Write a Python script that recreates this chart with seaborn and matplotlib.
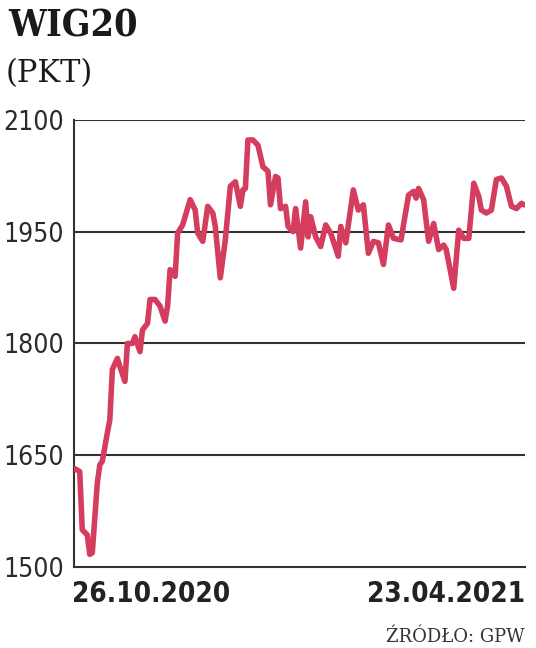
import pandas as pd
import matplotlib.pyplot as plt
import seaborn as sns

# dni od 26.10.2020 i wartości WIG20
days = [0, 2, 3, 5, 6, 7, 9, 10, 11, 13, 14, 15, 17, 18, 20, 21, 23, 24, 26, 27,
        29, 30, 32, 34, 36, 37, 38, 40, 41, 43, 46, 48, 49, 51, 53, 55, 56, 58, 60, 62,
        64, 66, 67, 68, 69, 71, 73, 75, 77, 78, 80, 81, 82, 84, 85, 87, 88, 90, 92, 93,
        94, 96, 98, 100, 102, 105, 106, 108, 111, 113, 115, 117, 119, 121, 123, 125, 127, 130, 133, 135,
        136, 137, 139, 141, 143, 145, 147, 148, 151, 153, 155, 157, 159, 161, 162, 164, 166, 168, 170, 172,
        174, 176, 178, 179]
wig20 = [1632, 1628, 1550, 1543, 1517, 1519, 1613, 1637, 1642, 1680, 1698, 1765, 1780, 1769, 1749, 1800, 1800, 1809, 1789, 1818,
         1827, 1859, 1859, 1850, 1830, 1850, 1899, 1890, 1948, 1959, 1993, 1979, 1948, 1937, 1984, 1975, 1957, 1888, 1939, 2011,
         2017, 1984, 2006, 2008, 2073, 2073, 2066, 2037, 2031, 1986, 2024, 2022, 1981, 1984, 1957, 1950, 1981, 1928, 1990, 1943,
         1970, 1943, 1930, 1959, 1948, 1917, 1957, 1935, 2006, 1979, 1986, 1921, 1937, 1935, 1906, 1959, 1941, 1939, 1999, 2004,
         1995, 2008, 1993, 1937, 1961, 1926, 1932, 1926, 1874, 1952, 1941, 1941, 2015, 1997, 1979, 1975, 1979, 2020, 2022, 2011,
         1984, 1981, 1988, 1986]
y_ticks = [1500, 1650, 1800, 1950, 2100]
start_label = "26.10.2020"
end_label = "23.04.2021"

df = pd.DataFrame({"data": pd.Timestamp("2020-10-26") + pd.to_timedelta(days, unit="D"),
                   "wig20": wig20})

sns.set_style("white")
fig = plt.figure(figsize=(5.36, 6.48), dpi=100)
ax = fig.add_axes([0.138, 0.125, 0.841, 0.690])

sns.lineplot(data=df, x="data", y="wig20", ax=ax, color="#d43d5e", lw=4.0,
             solid_joinstyle="round", solid_capstyle="round", zorder=3)

ax.set_ylim(1500, 2100)
ax.set_xlim(df["data"].iloc[0] - pd.Timedelta(days=0.3), df["data"].iloc[-1] + pd.Timedelta(days=0.3))
ax.set_yticks(y_ticks)
ax.set_yticklabels([str(t) for t in y_ticks], fontsize=19, fontstretch="condensed",
                   color="#2a2a2a")
ax.tick_params(axis="y", length=0, pad=7)
ax.set_xticks([])
for t in y_ticks[1:]:
    ax.axhline(t, color="#333333", lw=1.5, zorder=1)
for s in ["top", "right"]:
    ax.spines[s].set_visible(False)
for s in ["left", "bottom"]:
    ax.spines[s].set_color("#333333")
    ax.spines[s].set_linewidth(1.5)
ax.set_xlabel("")
ax.set_ylabel("")

fig.text(0.134, 0.071, start_label, fontsize=20, fontweight="bold", fontstretch="condensed",
         ha="left", va="baseline", color="#222222")
fig.text(0.979, 0.071, end_label, fontsize=20, fontweight="bold", fontstretch="condensed",
         ha="right", va="baseline", color="#222222")
fig.text(0.016, 0.943, "WIG20", fontsize=27, fontweight="bold", family="DejaVu Serif",
         fontstretch="condensed", ha="left", va="baseline", color="#1a1a1a")
fig.text(0.010, 0.874, "(PKT)", fontsize=22, family="DejaVu Serif",
         ha="left", va="baseline", color="#1a1a1a")
fig.text(0.979, 0.009, "ŹRÓDŁO: GPW", fontsize=13, family="DejaVu Serif",
         ha="right", va="baseline", color="#333333")

fig.savefig("out.png", dpi=100)
